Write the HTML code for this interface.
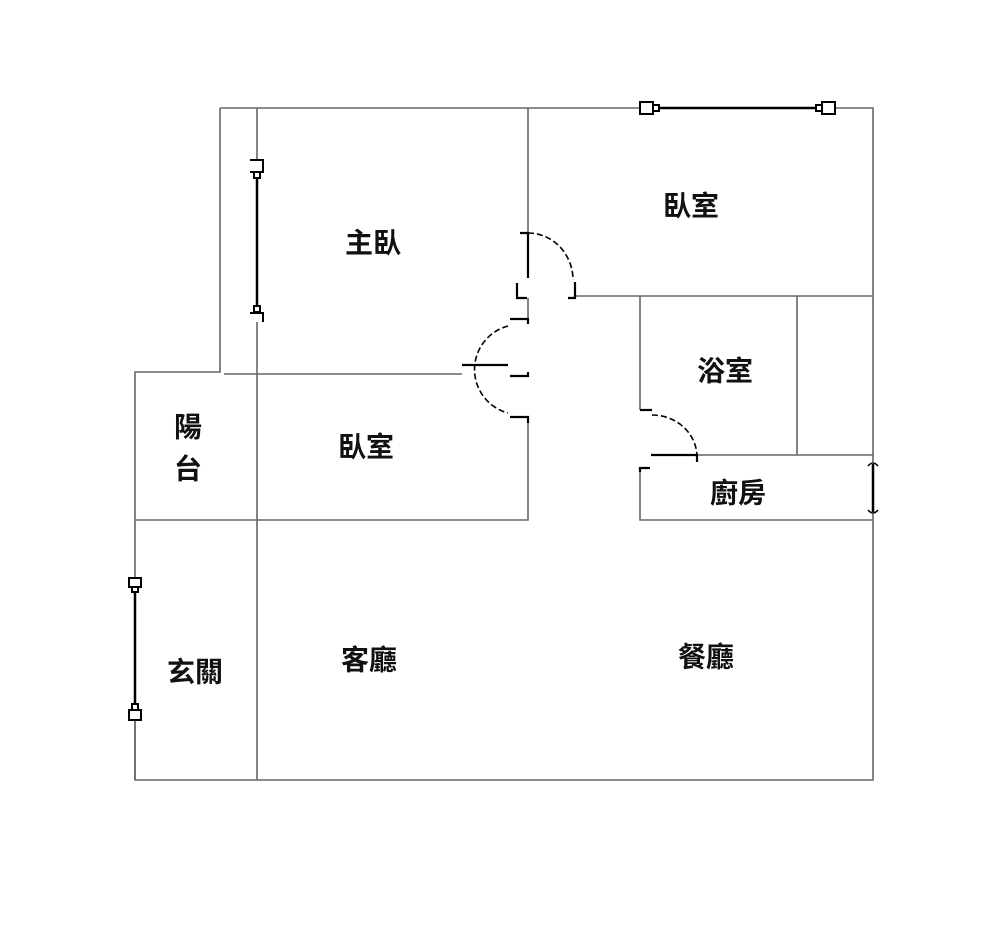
<!DOCTYPE html>
<html><head><meta charset="utf-8"><style>
html,body{margin:0;padding:0;background:#fff;}
svg{display:block}
text{font-family:"Liberation Sans","Noto Sans CJK TC","Noto Sans CJK SC",sans-serif;font-weight:bold;font-size:28px;fill:#111;text-anchor:middle;dominant-baseline:central}
</style></head><body>
<svg width="1000" height="936" viewBox="0 0 1000 936" xmlns="http://www.w3.org/2000/svg">
<g stroke="#666" stroke-width="1.6" fill="none">
<path d="M220 108 H640 M835 108 H873 V462 M873 514 V780 H135 V372 H220 V108"/>
<path d="M257 108 V160 M257 322 V780"/>
<path d="M135 720 V780"/>
<path d="M224 374 H462"/>
<path d="M135 520 H528 V418"/>
<path d="M528 108 V232 M528 298 V320"/>
<path d="M575 296 H873"/>
<path d="M640 296 V410"/>
<path d="M797 296 V455"/>
<path d="M697 455 H873"/>
<path d="M640 468 V520 H873"/>
</g>
<g stroke="#000" stroke-width="2" fill="#fff">
<line x1="655" y1="108" x2="820" y2="108" stroke-width="2.5"/>
<rect x="640" y="102" width="13" height="12"/><rect x="653" y="105" width="6" height="6"/>
<rect x="822" y="102" width="13" height="12"/><rect x="816" y="105" width="6" height="6"/>
<line x1="257" y1="175" x2="257" y2="310" stroke-width="2.5"/>
<path d="M250 160 H263 V172 H250" fill="none"/><rect x="254" y="172" width="6" height="6"/>
<rect x="254" y="306" width="6" height="6"/><path d="M250 313 H263 V322" fill="none"/>
<line x1="135" y1="590" x2="135" y2="708" stroke-width="2.5"/>
<rect x="129" y="578" width="12" height="9"/><rect x="132" y="587" width="6" height="5"/>
<rect x="129" y="710" width="12" height="10"/><rect x="132" y="704" width="6" height="6"/>
<line x1="873" y1="464" x2="873" y2="512" stroke-width="2.5"/>
<path d="M868 466 Q873 460 878 466 M868 510 Q873 516 878 510" fill="none" stroke-width="1.5"/>
</g>
<g stroke="#000" stroke-width="2.2" fill="none">
<path d="M520 233 H528 V278"/>
<path d="M528 233 A45 47 0 0 1 573 280" stroke-dasharray="6 3" stroke-width="1.6"/>
<path d="M517 283 V298 H527 M575 282 V298 H568"/>
<path d="M510 319 H528 V324"/>
<path d="M508 326 A45 45 0 0 0 508 413" stroke-dasharray="6 3" stroke-width="1.6"/>
<path d="M462 365 H508"/>
<path d="M510 376 H528 V372"/>
<path d="M510 417 H528 V423"/>
<path d="M640 410 H652"/>
<path d="M652 415 A45 42 0 0 1 697 458" stroke-dasharray="6 3" stroke-width="1.6"/>
<path d="M651 455 H697 V462"/>
<path d="M650 468 H640 V472"/>
</g>
<text x="373" y="243">主臥</text>
<text x="691" y="206">臥室</text>
<text x="725" y="371">浴室</text>
<text x="188" y="427">陽</text>
<text x="188" y="469">台</text>
<text x="366" y="447">臥室</text>
<text x="738" y="493">廚房</text>
<text x="195" y="672">玄關</text>
<text x="369" y="660">客廳</text>
<text x="706" y="657">餐廳</text>
</svg>
</body></html>
